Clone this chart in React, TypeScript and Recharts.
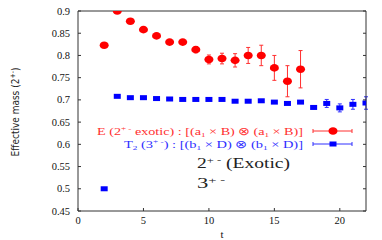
import { ScatterChart, Scatter, XAxis, YAxis, ErrorBar } from 'recharts';

// E (2+- exotic) channel
const tE = [2, 3, 4, 5, 6, 7, 8, 9, 10, 11, 12, 13, 14, 15, 16, 17];
const massE = [0.823, 0.9, 0.877, 0.858, 0.844, 0.83, 0.83, 0.813, 0.791, 0.793, 0.789, 0.8, 0.8, 0.772, 0.742, 0.769];
const errE = [0, 0, 0, 0, 0, 0, 0, 0.007, 0.01, 0.012, 0.015, 0.018, 0.023, 0.028, 0.035, 0.042];

// T2 (3+-) channel
const tT2 = [2, 3, 4, 5, 6, 7, 8, 9, 10, 11, 12, 13, 14, 15, 16, 17, 18, 19, 20, 21, 22];
const massT2 = [0.5, 0.708, 0.705, 0.705, 0.703, 0.702, 0.701, 0.701, 0.701, 0.701, 0.697, 0.697, 0.698, 0.695, 0.692, 0.695, 0.683, 0.692, 0.682, 0.69, 0.693];
const errT2 = [0, 0, 0, 0, 0, 0, 0, 0, 0, 0, 0, 0, 0, 0, 0, 0, 0.003, 0.009, 0.009, 0.011, 0.014];

const xTicks = [0, 5, 10, 15, 20];
const yTicks = [0.45, 0.5, 0.55, 0.6, 0.65, 0.7, 0.75, 0.8, 0.85, 0.9];

const dataE = tE.map((t, i) => ({ t, m: massE[i], err: errE[i] }));
const dataT2 = tT2.map((t, i) => ({ t, m: massT2[i], err: errT2[i] }));

const FONT = '"Liberation Serif", "Times New Roman", serif';
const RED = '#ff0000';
const BLUE = '#0000ff';

const BottomTick = (p: any) => (
  <g>
    <line x1={p.x} y1={p.y} x2={p.x} y2={p.y - 3} stroke="#333" />
    <text x={p.x} y={p.y + 13} textAnchor="middle" style={{ fontFamily: FONT }} fontSize={10.5} fill="#111">
      {p.payload.value}
    </text>
  </g>
);
const LeftTick = (p: any) => (
  <g>
    <line x1={p.x} y1={p.y} x2={p.x + 3} y2={p.y} stroke="#333" />
    <text x={p.x - 8} y={p.y + 3.5} textAnchor="end" style={{ fontFamily: FONT }} fontSize={10.5} fill="#111">
      {p.payload.value}
    </text>
  </g>
);
const TopTick = (p: any) => <line x1={p.x} y1={p.y} x2={p.x} y2={p.y + 3} stroke="#333" />;
const RightTick = (p: any) => <line x1={p.x} y1={p.y} x2={p.x - 3} y2={p.y} stroke="#333" />;

const Dot = (p: any) => <ellipse cx={p.cx} cy={p.cy} rx={4.5} ry={3.8} fill={RED} />;
const Square = (p: any) => <rect x={p.cx - 3.5} y={p.cy - 2.5} width={7} height={5} fill={BLUE} />;

export default function App() {
  return (
    <div style={{ position: 'absolute', left: 0, top: 0, width: 382, height: 240, background: '#fff' }}>
      <ScatterChart width={382} height={240} margin={{ top: 6, right: 11, bottom: 9, left: 38 }}>
        <XAxis
          dataKey="t"
          type="number"
          domain={[0, 22]}
          ticks={xTicks}
          interval={0}
          height={20}
          tickSize={0}
          tickMargin={0}
          tickLine={false}
          tick={<BottomTick />}
          axisLine={{ stroke: '#333' }}
          allowDataOverflow
        />
        <XAxis
          xAxisId="top"
          orientation="top"
          type="number"
          domain={[0, 22]}
          ticks={xTicks}
          interval={0}
          height={5}
          tickSize={0}
          tickMargin={0}
          tickLine={false}
          tick={<TopTick />}
          axisLine={{ stroke: '#333' }}
          allowDataOverflow
        />
        <YAxis
          dataKey="m"
          type="number"
          domain={[0.45, 0.9]}
          ticks={yTicks}
          interval={0}
          width={40}
          tickSize={0}
          tickMargin={0}
          tickLine={false}
          tick={<LeftTick />}
          axisLine={{ stroke: '#333' }}
          allowDataOverflow
        />
        <YAxis
          yAxisId="right"
          orientation="right"
          type="number"
          domain={[0.45, 0.9]}
          ticks={yTicks}
          interval={0}
          width={5}
          tickSize={0}
          tickMargin={0}
          tickLine={false}
          tick={<RightTick />}
          axisLine={{ stroke: '#333' }}
          allowDataOverflow
        />
        <Scatter data={dataE} dataKey="m" shape={<Dot />} isAnimationActive={false}>
          <ErrorBar dataKey="err" direction="y" width={2} stroke="#ff3030" strokeWidth={1} />
        </Scatter>
        <Scatter data={dataT2} dataKey="m" shape={<Square />} isAnimationActive={false}>
          <ErrorBar dataKey="err" direction="y" width={2} stroke="#3030ff" strokeWidth={1} />
        </Scatter>
      </ScatterChart>
      <svg width={382} height={240} style={{ position: 'absolute', left: 0, top: 0, pointerEvents: 'none' }}>
        <text
          transform="translate(19,112) rotate(-90)"
          textAnchor="middle"
          fontFamily='"DejaVu Sans Condensed", "DejaVu Sans", sans-serif'
          fontSize={10}
          fill="#222"
        >
          Effective mass (2<tspan dy={-4} fontSize={7}>+-</tspan><tspan dy={4}>)</tspan>
        </text>
        <text x={222} y={238} textAnchor="middle" style={{ fontFamily: FONT }} fontSize={11} fill="#111">t</text>

        <text x={97} y={135} textLength={206} lengthAdjust="spacingAndGlyphs" style={{ fontFamily: FONT }} fontSize={11} fill="#ff3030">
          E (2<tspan dy={-4} fontSize={7}>+ -</tspan><tspan dy={4}> exotic) : [(a</tspan>
          <tspan dy={2} fontSize={7}>1</tspan><tspan dy={-2}> × B)  ⊗ (a</tspan>
          <tspan dy={2} fontSize={7}>1</tspan><tspan dy={-2}> × B)]</tspan>
        </text>
        <line x1={313} y1={131} x2={352} y2={131} stroke="#ff3030" />
        <line x1={313} y1={129} x2={313} y2={133} stroke="#ff3030" />
        <line x1={352} y1={129} x2={352} y2={133} stroke="#ff3030" />
        <ellipse cx={333} cy={131} rx={4.5} ry={3.8} fill={RED} />

        <text x={124} y={148} textLength={179} lengthAdjust="spacingAndGlyphs" style={{ fontFamily: FONT }} fontSize={11} fill="#3030ff">
          T<tspan dy={2} fontSize={7}>2</tspan><tspan dy={-2}> (3</tspan>
          <tspan dy={-4} fontSize={7}>+ -</tspan><tspan dy={4}>) : [(b</tspan>
          <tspan dy={2} fontSize={7}>1</tspan><tspan dy={-2}> × D)  ⊗ (b</tspan>
          <tspan dy={2} fontSize={7}>1</tspan><tspan dy={-2}> × D)]</tspan>
        </text>
        <line x1={313} y1={144} x2={352} y2={144} stroke="#3030ff" />
        <line x1={313} y1={142} x2={313} y2={146} stroke="#3030ff" />
        <line x1={352} y1={142} x2={352} y2={146} stroke="#3030ff" />
        <rect x={329.5} y={141.5} width={7} height={5} fill={BLUE} />

        <text x={197} y={167.5} textLength={93} lengthAdjust="spacingAndGlyphs" style={{ fontFamily: FONT }} fontSize={14} fill="#222">
          2<tspan dy={-5} fontSize={9}>+ -</tspan><tspan dy={5}> (Exotic)</tspan>
        </text>
        <text x={197} y={187.5} textLength={28} lengthAdjust="spacingAndGlyphs" style={{ fontFamily: FONT }} fontSize={14} fill="#222">
          3<tspan dy={-5} fontSize={9}>+ -</tspan>
        </text>
      </svg>
    </div>
  );
}
